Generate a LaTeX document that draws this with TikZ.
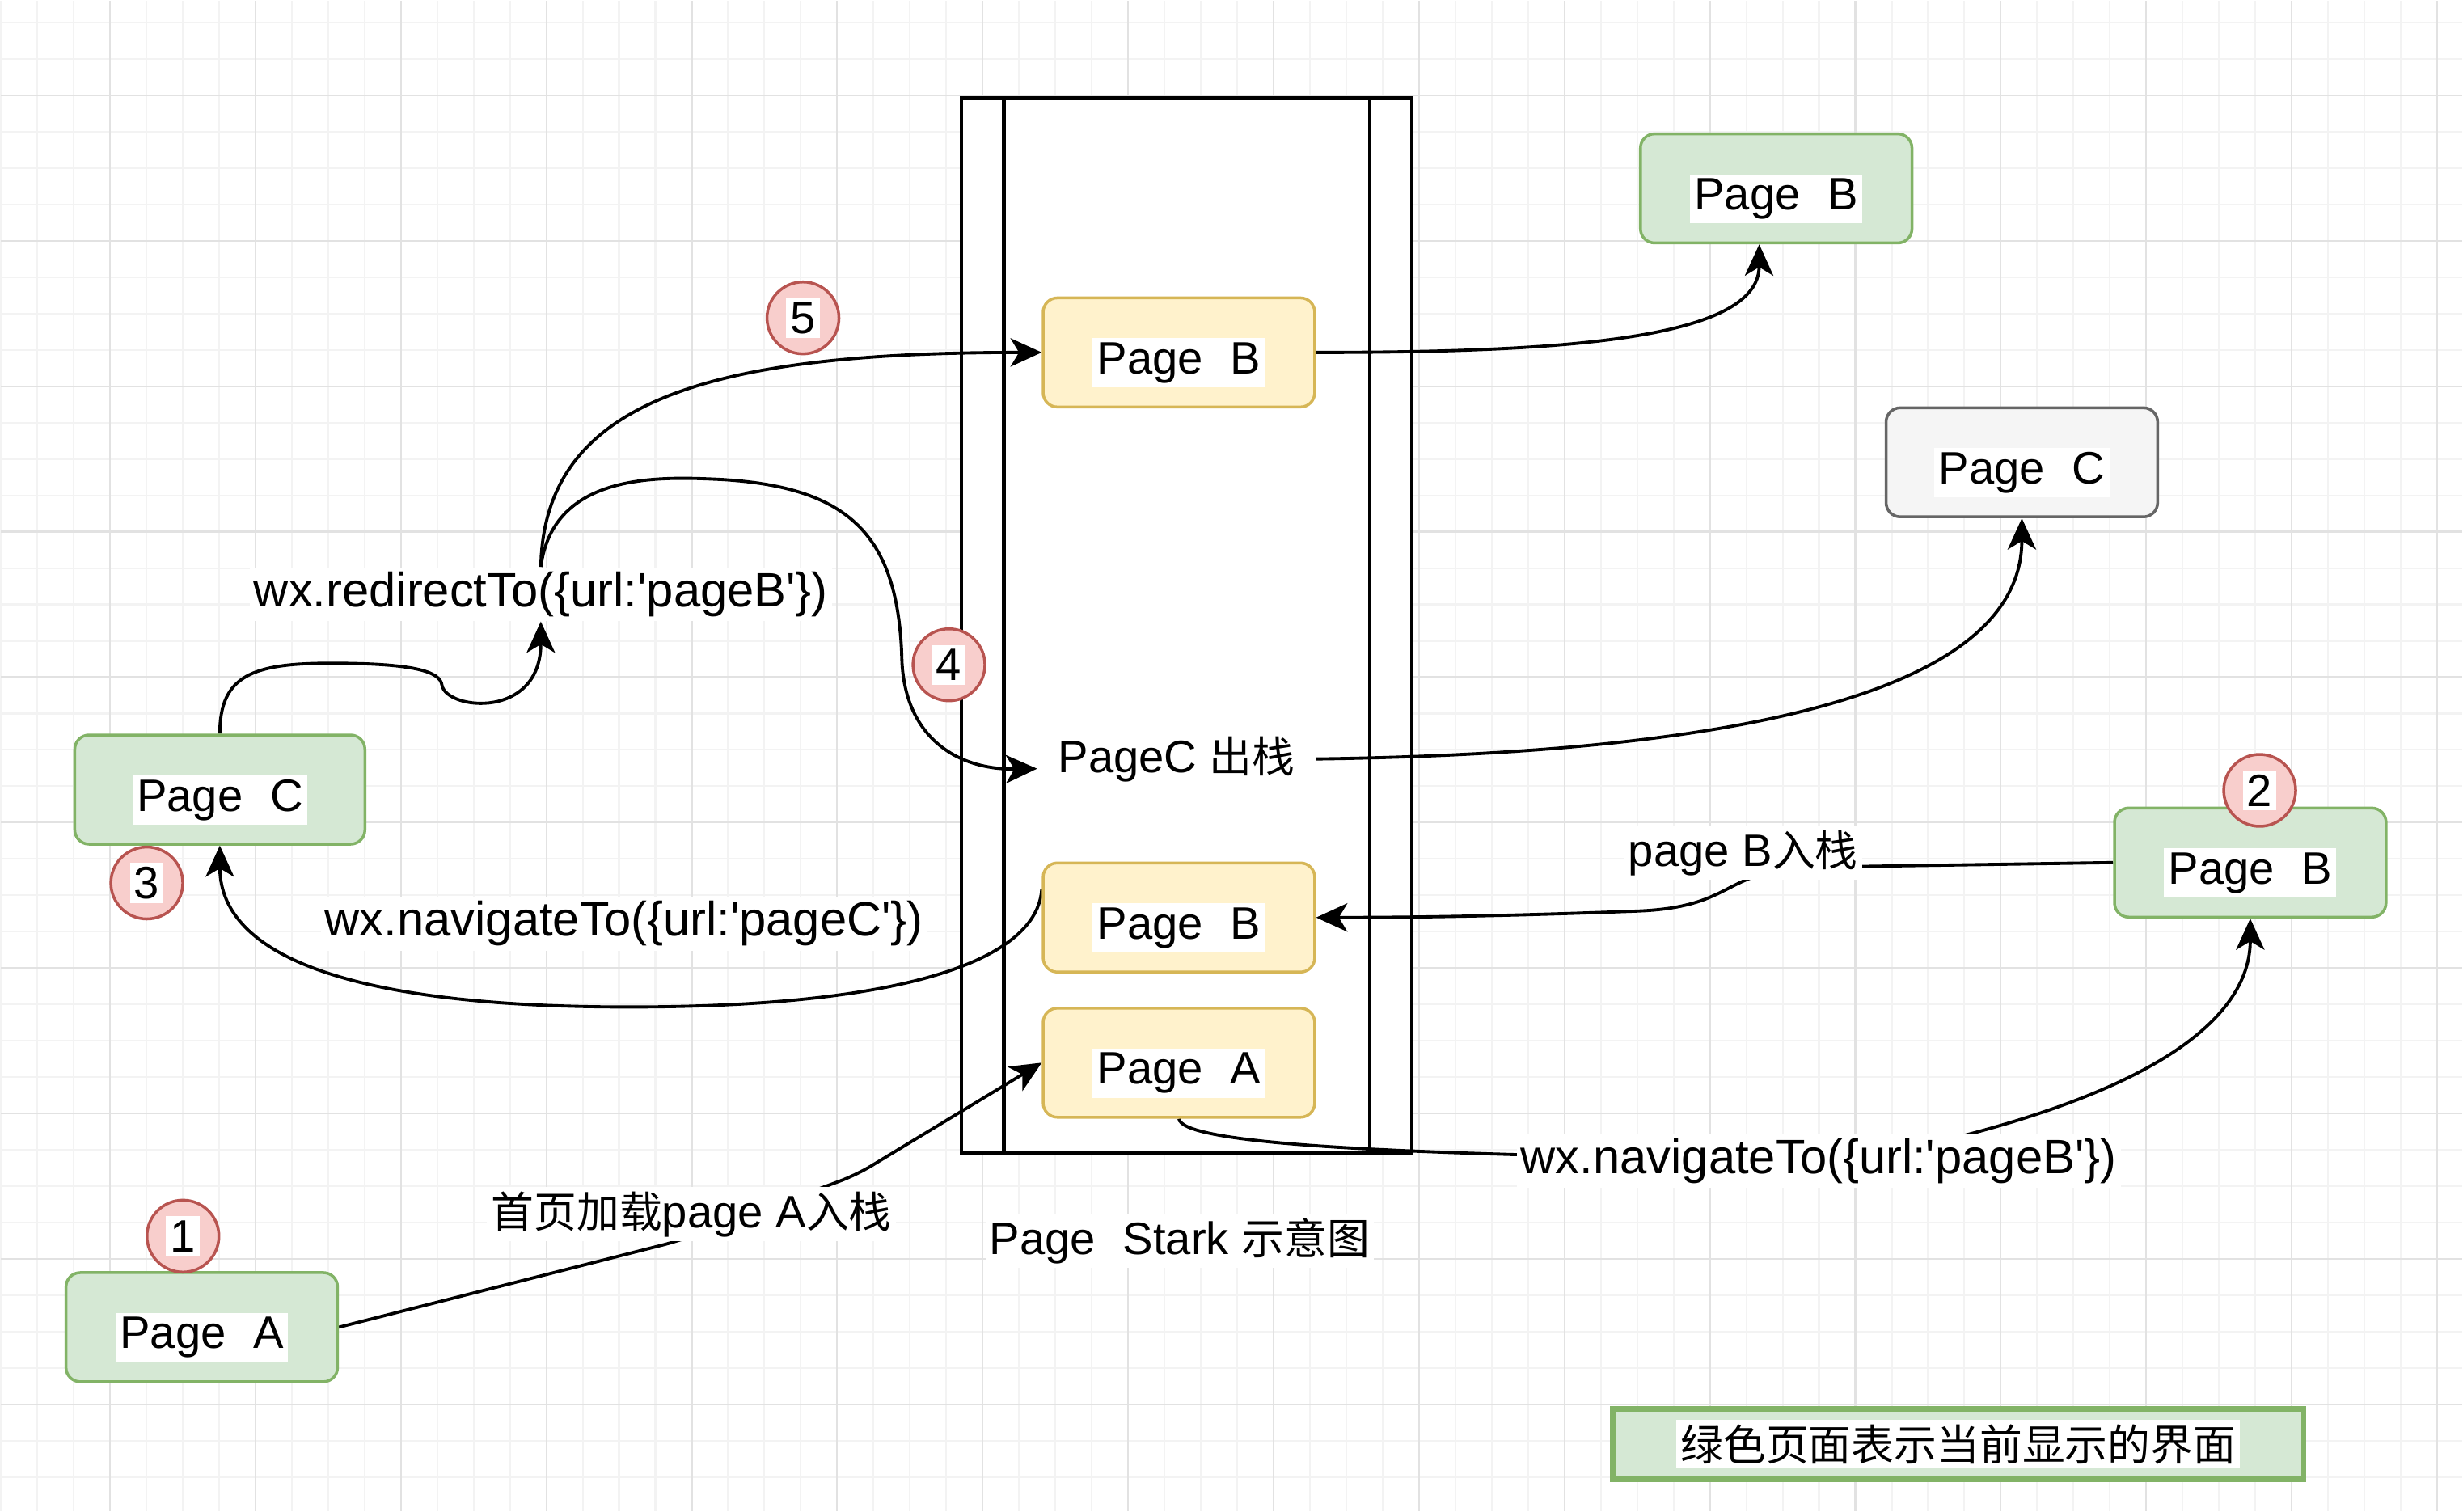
\documentclass[tikz,border=0pt]{standalone}
\usepackage{fontspec}
\setmainfont{Liberation Sans}
\newfontfamily\cjk[Scale=0.94]{Noto Sans CJK SC}
\usetikzlibrary{arrows.meta,calc}
\definecolor{gfill}{HTML}{D5E8D4}
\definecolor{gline}{HTML}{82B366}
\definecolor{yfill}{HTML}{FFF2CC}
\definecolor{yline}{HTML}{D6B656}
\definecolor{rfill}{HTML}{F8CECC}
\definecolor{rline}{HTML}{B85450}
\definecolor{kfill}{HTML}{F5F5F5}
\definecolor{kline}{HTML}{666666}
\definecolor{gridminor}{HTML}{F3F3F3}
\definecolor{gridmajor}{HTML}{E2E2E2}
\newcommand{\whitebg}[1]{\colorbox{white}{#1}}
\setlength{\fboxsep}{1.5pt}
\pgfdeclarelayer{bglayer}
\pgfdeclarelayer{edgelayer}
\pgfsetlayers{bglayer,edgelayer,main}
\begin{document}
\begin{tikzpicture}[x=0.019426cm,y=-0.019426cm,
  font=\fontsize{16}{19}\selectfont,
  box/.style={rounded corners=5pt, line width=1pt, minimum width=3.36cm, minimum height=1.35cm, inner sep=0pt, text height=0.70cm},
  ybox/.style={box, draw=yline, fill=yfill},
  gbox/.style={box, draw=gline, fill=gfill},
  kbox/.style={box, draw=kline, fill=kfill},
  txt/.style={fill=white, inner sep=1.5pt},
  code/.style={txt, font=\fontsize{17}{20}\selectfont},
  num/.style={circle, draw=rline, fill=rfill, line width=1pt, minimum size=0.89cm, inner sep=0pt},
  conn/.style={line width=1.1pt, -{Stealth[length=11pt,width=10pt,inset=3pt]}},
]
\begin{pgfonlayer}{bglayer}
\fill[white] (0,0) rectangle (1568,962);
\foreach \k in {0,...,67} {\pgfmathsetmacro\xx{\k*23.165}\draw[gridminor, line width=0.6pt] (\xx,0) -- (\xx,962);}
\foreach \k in {0,...,40} {\pgfmathsetmacro\yy{13.9+\k*23.165}\draw[gridminor, line width=0.6pt] (0,\yy) -- (1568,\yy);}
\foreach \k in {0,...,16} {\pgfmathsetmacro\xx{69.5+\k*92.66}\draw[gridmajor, line width=0.6pt] (\xx,0) -- (\xx,962);}
\foreach \k in {0,...,9} {\pgfmathsetmacro\yy{60.2+\k*92.66}\draw[gridmajor, line width=0.6pt] (0,\yy) -- (1568,\yy);}
\draw[line width=1.2pt, fill=white] (612,62) rectangle (899,734);
\draw[line width=1.2pt] (639,62) -- (639,734);
\draw[line width=1.2pt] (872,62) -- (872,734);
\end{pgfonlayer}
\useasboundingbox (0,0) rectangle (1568,962);

% stack boxes
\node[ybox] (yb) at (750.5,224) {\whitebg{Page\hspace{0.6em}B}};
\node[ybox] (ym) at (750.5,584) {\whitebg{Page\hspace{0.6em}B}};
\node[ybox] (ya) at (750.5,676.5) {\whitebg{Page\hspace{0.6em}A}};
% outside boxes
\node[gbox] (gbt) at (1131,119.5) {\whitebg{Page\hspace{0.6em}B}};
\node[kbox] (gk) at (1287.5,294) {\whitebg{Page\hspace{0.6em}C}};
\node[gbox, minimum width=3.59cm] (gc) at (139.5,502.5) {\whitebg{Page\hspace{0.6em}C}};
\node[gbox] (gbr) at (1433,549) {\whitebg{Page\hspace{0.6em}B}};
\node[gbox] (ga) at (128,845) {\whitebg{Page\hspace{0.6em}A}};
\node[draw=gline, fill=gfill, line width=1.8pt, minimum width=8.55cm, minimum height=0.87cm, inner sep=0pt] (legend) at (1247,919.5) {\whitebg{\cjk 绿色页面表示当前显示的界面}};

% labels
\node[code] (redir) at (344,378) {wx.redirectTo(\{url:\textquotesingle pageB\textquotesingle\})};
\node[code] (navC) at (397,588) {wx.navigateTo(\{url:\textquotesingle pageC\textquotesingle\})};
\node[txt] (pcout) at (749,483) {PageC {\cjk 出栈}};
\node[txt] (pBin) at (1110,543) {page B{\cjk 入栈}};
\node[code] (navB) at (1158,739) {wx.navigateTo(\{url:\textquotesingle pageB\textquotesingle\})};
\node[txt] (home) at (440,773) {{\cjk 首页加载}page A{\cjk 入栈}};
\node[txt] (title) at (751,790) {Page\hspace{0.6em}Stark {\cjk 示意图}};

% numbers
\node[num] (n1) at (116,787) {\whitebg{1}};
\node[num] (n2) at (1439,503) {\whitebg{2}};
\node[num] (n3) at (93,562) {\whitebg{3}};
\node[num] (n4) at (604,423) {\whitebg{4}};
\node[num] (n5) at (511,202) {\whitebg{5}};

\begin{pgfonlayer}{edgelayer}
\draw[conn, rounded corners=6pt] (ga.east) -- (432,790) -- (545,748) -- (ya.west);
\draw[conn] ($(ym.north west)!0.25!(ym.south west)$) .. controls (660,610) and (580,641) .. (400,641) .. controls (200,641) and (139.5,600) .. (gc.south);
\draw[conn] (gbr.west) -- (1150,552) .. controls (1095,555) and (1105,578) .. (1040,580) .. controls (960,583) and (900,584) .. (ym.east);
\draw[conn] (ya.south) .. controls (752,728) and (880,733) .. (1000,736) -- (1230,728) .. controls (1390,690) and (1433,640) .. (gbr.south);
\draw[conn] (gc.north) .. controls (139.5,430) and (160,422) .. (210,422) .. controls (262,422) and (280,427) .. (281,436) .. controls (284,452) and (344,458) .. (redir.south);
\draw[conn] (redir.north) .. controls (346,255) and (450,224) .. (yb.west);
\draw[conn] (redir.north) .. controls (352,300) and (420,303) .. (460,305) .. controls (540,310) and (572,340) .. (574,420) .. controls (576,470) and (610,490) .. ([xshift=-0.2cm,yshift=-0.12cm]pcout.west);
\draw[conn] ([xshift=0.2cm]pcout.east) .. controls (1050,480) and (1287.5,455) .. (gk.south);
\draw[conn] (yb.east) .. controls (1000,224) and (1120,215) .. ([xshift=-0.21cm]gbt.south);
\end{pgfonlayer}
\end{tikzpicture}
\end{document}
